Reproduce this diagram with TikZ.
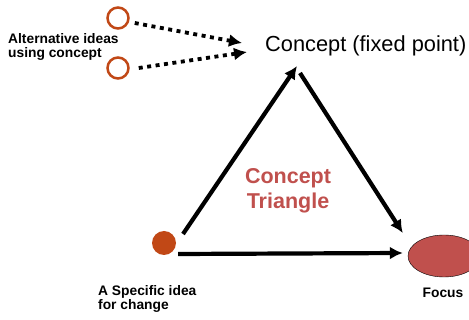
\documentclass[tikz,border=0pt]{standalone}
\usepackage{fontspec}
\setmainfont{Liberation Sans}
\usetikzlibrary{arrows.meta, shapes.geometric}
\definecolor{ideabrown}{RGB}{193,72,22}
\definecolor{focusred}{RGB}{192,80,77}
\tikzset{
  idea/.style={circle, draw=ideabrown, line width=2.5pt, fill=white, minimum size=21pt, inner sep=0pt},
  lbl/.style={font=\bfseries\fontsize{13.8}{14}\selectfont, align=left, inner sep=0pt},
  dotarrow/.style={->, line width=3.8pt, dash pattern=on 4pt off 4.5pt},
  bigarrow/.style={->, line width=4.2pt}
}
\begin{document}
\begin{tikzpicture}[x=1pt, y=-1pt, >={Latex[length=13pt,width=13pt]}]
    \useasboundingbox (0,0) rectangle (469,320);
    % Alternative ideas
    \node[idea] (alt1) at (118,18) {};
    \node[idea] (alt2) at (118,68) {};
    \node[lbl, anchor=west] (altlbl) at (8,47) {Alternative ideas\\using concept};

    % Concept
    \node[anchor=west, inner sep=0pt, font=\fontsize{21.8}{24}\selectfont] (concept) at (265,46) {Concept (fixed point)};
    \coordinate (in1) at (242,43);
    \coordinate (in2) at (247,52);
    \draw[dotarrow] (alt1.east) ++(5,5) coordinate (out1) -- (in1);
    \draw[dotarrow] (alt2.east) ++(9,0) coordinate (out2) -- (in2);

    % Triangle
    \node[circle, fill=ideabrown, minimum size=24pt, inner sep=0pt] (specific) at (164,243) {};
    \node[ellipse, draw, thin, fill=focusred, minimum width=72pt, minimum height=42pt, inner sep=0pt] (focus) at (444,256) {};
    \node[lbl, anchor=west] (speclbl) at (98,299) {A Specific idea\\for change};
    \node[lbl] (focuslbl) at (443,293) {Focus};
    \node[text=focusred, align=center, font=\bfseries\fontsize{21.5}{25}\selectfont] (tri) at (288,191) {Concept\\Triangle};

    \coordinate (apex) at (297,66);
    \coordinate (apexr) at (300,73);
    \draw[bigarrow] (specific) ++(19,-9) -- (apex);
    \draw[bigarrow] (apexr) -- ([shift={(-5,-23)}]focus.west);
    \draw[bigarrow] (specific.east) ++(2,11) -- ([shift={(-5,-3)}]focus.west);
\end{tikzpicture}
\end{document}
